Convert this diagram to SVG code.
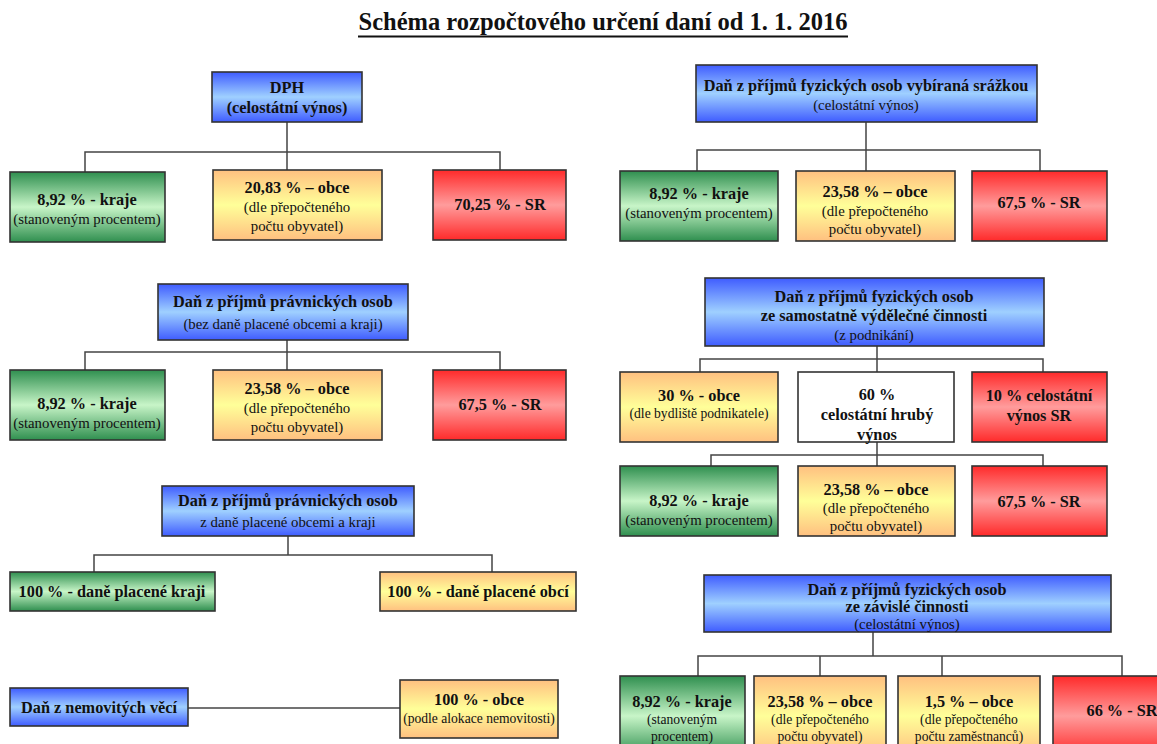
<svg xmlns="http://www.w3.org/2000/svg" width="1157" height="744" viewBox="0 0 1157 744">
  <defs>
    <linearGradient id="gBlue" x1="0" y1="0" x2="0" y2="1">
      <stop offset="0" stop-color="#3f5cff"/>
      <stop offset="0.5" stop-color="#9fd0ff"/>
      <stop offset="1" stop-color="#3f5cff"/>
    </linearGradient>
    <linearGradient id="gGreen" x1="0" y1="0" x2="0" y2="1">
      <stop offset="0" stop-color="#2f8f4f"/>
      <stop offset="0.5" stop-color="#c8f5c8"/>
      <stop offset="1" stop-color="#2f8f4f"/>
    </linearGradient>
    <linearGradient id="gOrange" x1="0" y1="0" x2="0" y2="1">
      <stop offset="0" stop-color="#ffc080"/>
      <stop offset="0.5" stop-color="#ffff99"/>
      <stop offset="1" stop-color="#ffc080"/>
    </linearGradient>
    <linearGradient id="gRed" x1="0" y1="0" x2="0" y2="1">
      <stop offset="0" stop-color="#ff2a2a"/>
      <stop offset="0.5" stop-color="#ff9c9c"/>
      <stop offset="1" stop-color="#ff2a2a"/>
    </linearGradient>
  </defs>
  <style>
    text { font-family: "Liberation Serif", "Times New Roman", serif; fill: #111; text-anchor: middle; }
    .b { font-weight: bold; font-size: 16.3px; }
    .r { font-size: 14.8px; }
    .s { font-size: 13.6px; }
    .box { stroke: #333; stroke-width: 1.6; }
    .blue { fill: url(#gBlue); }
    .green { fill: url(#gGreen); }
    .orange { fill: url(#gOrange); }
    .red { fill: url(#gRed); }
    .white { fill: #fff; }
    .conn { fill: none; stroke: #444; stroke-width: 1.5; }
  </style>
  <rect width="1157" height="744" fill="#fff"/>

  <!-- title -->
  <g id="title">
    <text x="603" y="30" style="font-weight:bold;font-size:24.5px">Schéma rozpočtového určení daní od 1. 1. 2016</text>
    <line x1="358" y1="36.5" x2="848" y2="36.5" stroke="#111" stroke-width="2"/>
  </g>

  <!-- connectors -->
  <g id="connectors" class="conn">
    <path d="M287 122 V152 M85 172 V152 H500 V170 M287 152 V170"/>
    <path d="M287 340 V352 M85 370 V352 H500 V370 M287 352 V370"/>
    <path d="M288 536 V555 M94 572 V555 H492 V572"/>
    <path d="M188 708 H400"/>
    <path d="M866 122 V150 M697 171 V150 H1040 V171 M866 150 V171"/>
    <path d="M877 346 V359 M700 372 V359 H1043 V372 M877 359 V372"/>
    <path d="M877 442 V455 M711 466 V455 H1043 V466 M877 455 V466"/>
    <path d="M873 632 V656 M698 676 V656 H1122 V676 M820 656 V676 M942 656 V676"/>
  </g>

  <!-- DPH -->
  <g id="dph">
    <rect class="box blue" x="212" y="72" width="150" height="50"/>
    <text class="b" x="287" y="93">DPH</text>
    <text class="b" x="287" y="113">(celostátní výnos)</text>
  </g>
  <g id="dph-kraje">
    <rect class="box green" x="10" y="172" width="155" height="70"/>
    <text class="b" x="87" y="205">8,92 % - kraje</text>
    <text class="r" x="87" y="224">(stanoveným procentem)</text>
  </g>
  <g id="dph-obce">
    <rect class="box orange" x="213" y="170" width="169" height="70"/>
    <text class="b" x="297" y="193">20,83 % – obce</text>
    <text class="r" x="297" y="212">(dle přepočteného</text>
    <text class="r" x="297" y="231">počtu obyvatel)</text>
  </g>
  <g id="dph-sr">
    <rect class="box red" x="433" y="170" width="133" height="70"/>
    <text class="b" x="500" y="210">70,25 % - SR</text>
  </g>

  <!-- DPPO -->
  <g id="dppo">
    <rect class="box blue" x="158" y="284" width="250" height="56"/>
    <text class="b" x="283" y="307">Daň z příjmů právnických osob</text>
    <text class="r" x="283" y="329">(bez daně placené obcemi a kraji)</text>
  </g>
  <g id="dppo-kraje">
    <rect class="box green" x="10" y="370" width="155" height="70"/>
    <text class="b" x="87" y="409">8,92 % - kraje</text>
    <text class="r" x="87" y="428">(stanoveným procentem)</text>
  </g>
  <g id="dppo-obce">
    <rect class="box orange" x="213" y="370" width="169" height="70"/>
    <text class="b" x="297" y="394">23,58 % – obce</text>
    <text class="r" x="297" y="413">(dle přepočteného</text>
    <text class="r" x="297" y="432">počtu obyvatel)</text>
  </g>
  <g id="dppo-sr">
    <rect class="box red" x="433" y="370" width="133" height="70"/>
    <text class="b" x="500" y="410">67,5 % - SR</text>
  </g>

  <!-- DPPO placená obcemi a kraji -->
  <g id="dppo-ok">
    <rect class="box blue" x="162" y="486" width="252" height="50"/>
    <text class="b" x="288" y="506">Daň z příjmů právnických osob</text>
    <text class="r" x="288" y="527">z daně placené obcemi a kraji</text>
  </g>
  <g id="dppo-ok-kraje">
    <rect class="box green" x="10" y="572" width="205" height="39"/>
    <text class="b" x="112" y="597">100 % - daně placené kraji</text>
  </g>
  <g id="dppo-ok-obce">
    <rect class="box orange" x="380" y="572" width="196" height="39"/>
    <text class="b" x="478" y="597">100 % - daně placené obcí</text>
  </g>

  <!-- Daň z nemovitých věcí -->
  <g id="dnv">
    <rect class="box blue" x="10" y="688" width="178" height="38"/>
    <text class="b" x="99" y="713">Daň z nemovitých věcí</text>
  </g>
  <g id="dnv-obce">
    <rect class="box orange" x="400" y="680" width="158" height="58"/>
    <text class="b" x="479" y="705">100 % - obce</text>
    <text class="s" x="479" y="723">(podle alokace nemovitosti)</text>
  </g>

  <!-- DPFO srážková -->
  <g id="dpfo-s">
    <rect class="box blue" x="696" y="65" width="341" height="57"/>
    <text class="b" x="866" y="91">Daň z příjmů fyzických osob vybíraná srážkou</text>
    <text class="r" x="866" y="110">(celostátní výnos)</text>
  </g>
  <g id="dpfo-s-kraje">
    <rect class="box green" x="620" y="171" width="158" height="70"/>
    <text class="b" x="699" y="199">8,92 % - kraje</text>
    <text class="r" x="699" y="218">(stanoveným procentem)</text>
  </g>
  <g id="dpfo-s-obce">
    <rect class="box orange" x="796" y="171" width="159" height="70"/>
    <text class="b" x="875" y="197">23,58 % – obce</text>
    <text class="r" x="875" y="216">(dle přepočteného</text>
    <text class="r" x="875" y="234">počtu obyvatel)</text>
  </g>
  <g id="dpfo-s-sr">
    <rect class="box red" x="972" y="171" width="135" height="70"/>
    <text class="b" x="1039" y="208">67,5 % - SR</text>
  </g>

  <!-- DPFO z podnikání -->
  <g id="dpfo-p">
    <rect class="box blue" x="705" y="278" width="339" height="68"/>
    <text class="b" x="874" y="302">Daň z příjmů fyzických osob</text>
    <text class="b" x="874" y="321">ze samostatně výdělečné činnosti</text>
    <text class="r" x="874" y="340">(z podnikání)</text>
  </g>
  <g id="dpfo-p-obce">
    <rect class="box orange" x="620" y="372" width="158" height="70"/>
    <text class="b" x="699" y="401">30 % - obce</text>
    <text class="s" x="699" y="418">(dle bydliště podnikatele)</text>
  </g>
  <g id="dpfo-p-hruby">
    <rect class="box white" x="798" y="372" width="156" height="70"/>
    <text class="b" x="877" y="400">60 %</text>
    <text class="b" x="877" y="420">celostátní hrubý</text>
    <text class="b" x="877" y="440">výnos</text>
  </g>
  <g id="dpfo-p-sr">
    <rect class="box red" x="972" y="372" width="135" height="70"/>
    <text class="b" x="1039" y="401">10 % celostátní</text>
    <text class="b" x="1039" y="421">výnos SR</text>
  </g>
  <g id="dpfo-p-kraje">
    <rect class="box green" x="620" y="466" width="158" height="70"/>
    <text class="b" x="699" y="506">8,92 % - kraje</text>
    <text class="r" x="699" y="525">(stanoveným procentem)</text>
  </g>
  <g id="dpfo-p-obce2">
    <rect class="box orange" x="798" y="466" width="157" height="70"/>
    <text class="b" x="876" y="495">23,58 % – obce</text>
    <text class="r" x="876" y="513">(dle přepočteného</text>
    <text class="r" x="876" y="531">počtu obyvatel)</text>
  </g>
  <g id="dpfo-p-sr2">
    <rect class="box red" x="972" y="466" width="135" height="70"/>
    <text class="b" x="1039" y="507">67,5 % - SR</text>
  </g>

  <!-- DPFO ze závislé činnosti -->
  <g id="dpfo-z">
    <rect class="box blue" x="704" y="575" width="407" height="57"/>
    <text class="b" x="907" y="595">Daň z příjmů fyzických osob</text>
    <text class="b" x="907" y="612">ze závislé činnosti</text>
    <text class="r" x="907" y="629">(celostátní výnos)</text>
  </g>
  <g id="dpfo-z-kraje">
    <rect class="box green" x="620" y="676" width="125" height="80"/>
    <text class="b" x="682" y="707">8,92 % - kraje</text>
    <text class="s" x="682" y="724">(stanoveným</text>
    <text class="s" x="682" y="741">procentem)</text>
  </g>
  <g id="dpfo-z-obce">
    <rect class="box orange" x="754" y="676" width="132" height="80"/>
    <text class="b" x="820" y="707">23,58 % – obce</text>
    <text class="s" x="820" y="724">(dle přepočteného</text>
    <text class="s" x="820" y="741">počtu obyvatel)</text>
  </g>
  <g id="dpfo-z-zam">
    <rect class="box orange" x="898" y="676" width="142" height="80"/>
    <text class="b" x="969" y="707">1,5 % – obce</text>
    <text class="s" x="969" y="724">(dle přepočteného</text>
    <text class="s" x="969" y="741">počtu zaměstnanců)</text>
  </g>
  <g id="dpfo-z-sr">
    <rect class="box red" x="1053" y="676" width="115" height="80"/>
    <text class="b" x="1122" y="716">66 % - SR</text>
  </g>
</svg>
